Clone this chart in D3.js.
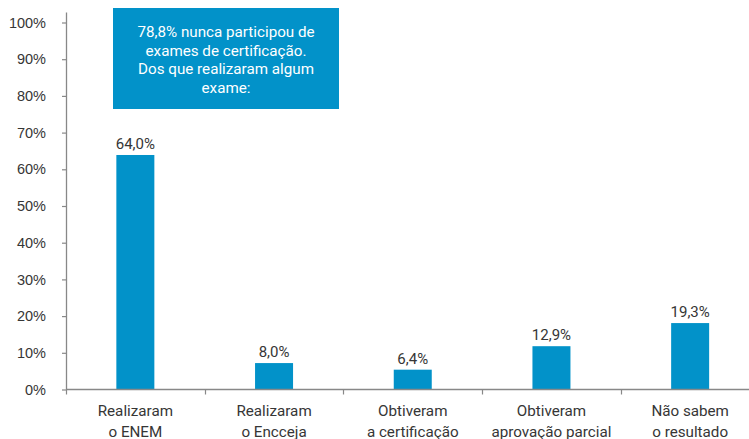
<!DOCTYPE html>
<html>
<head>
<meta charset="utf-8">
<script src="https://cdn.jsdelivr.net/npm/d3@7"></script>
<style>
  body { margin: 0; background: #fff; }
  svg { display: block; font-family: Roboto, "Noto Sans", sans-serif; }
</style>
</head>
<body>
<div id="chart"></div>
<script>
const categories = [
  ["Realizaram", "o ENEM"],
  ["Realizaram", "o Encceja"],
  ["Obtiveram", "a certificação"],
  ["Obtiveram", "aprovação parcial"],
  ["Não sabem", "o resultado"]
]
// bar heights as drawn, and the printed labels
const values = [63.9, 7.2, 5.4, 11.8, 18.1]
const labels = ["64,0%", "8,0%", "6,4%", "12,9%", "19,3%"]
const yTicks = [0, 10, 20, 30, 40, 50, 60, 70, 80, 90, 100]
const note = ["78,8% nunca participou de", "exames de certificação.", "Dos que realizaram algum", "exame:"]

const width = 749
const height = 439
const margin = { top: 22.5, right: 0, bottom: 49.5, left: 66 }
const blue = "#0292c9"
const axisCol = "#888"
const textCol = "#363636"

const svg = d3.select("#chart").append("svg")
  .attr("width", width)
  .attr("height", height)

const x = d3.scaleBand()
  .domain(d3.range(categories.length))
  .range([margin.left, 759.5])

const y = d3.scaleLinear()
  .domain([0, 100])
  .range([height - margin.bottom, margin.top])

// y axis
svg.append("g")
  .attr("transform", `translate(${margin.left},0)`)
  .call(d3.axisLeft(y).tickValues(yTicks).tickFormat(d => d + "%").tickSize(4).tickSizeOuter(0))
  .call(g => g.select(".domain").attr("stroke", axisCol).attr("stroke-width", 1.3)
    .attr("d", `M0.5,${margin.top - 10}V${y(0)}`))
  .call(g => g.selectAll(".tick line").attr("stroke", axisCol).attr("stroke-width", 1.2))
  .call(g => g.selectAll(".tick text").attr("fill", textCol).attr("font-size", 14.5).attr("x", -20))

// bars
svg.append("g")
  .selectAll("rect")
  .data(values)
  .join("rect")
  .attr("x", (d, i) => x(i) + x.bandwidth() / 2 - 19)
  .attr("width", 38)
  .attr("y", d => y(d))
  .attr("height", d => y(0) - y(d))
  .attr("fill", blue)

// value labels
svg.append("g")
  .selectAll("text")
  .data(values)
  .join("text")
  .attr("x", (d, i) => x(i) + x.bandwidth() / 2)
  .attr("y", d => y(d) - 6)
  .attr("text-anchor", "middle")
  .attr("fill", textCol)
  .attr("font-size", 15)
  .text((d, i) => labels[i])

// x axis with separators between categories
const xa = svg.append("g")
  .attr("transform", `translate(0,${y(0)})`)
xa.append("line")
  .attr("x1", margin.left).attr("x2", width)
  .attr("stroke", axisCol).attr("stroke-width", 1.5)
xa.selectAll(".sep")
  .data(d3.range(categories.length))
  .join("line")
  .attr("class", "sep")
  .attr("x1", i => Math.round(x(i)) + 0.5)
  .attr("x2", i => Math.round(x(i)) + 0.5)
  .attr("y1", 0).attr("y2", 5)
  .attr("stroke", axisCol).attr("stroke-width", 1.2)

const cat = xa.selectAll(".cat")
  .data(categories)
  .join("text")
  .attr("class", "cat")
  .attr("text-anchor", "middle")
  .attr("fill", textCol)
  .attr("font-size", 15.2)
  .attr("transform", (d, i) => `translate(${x(i) + x.bandwidth() / 2},0)`)
cat.selectAll("tspan")
  .data(d => d)
  .join("tspan")
  .attr("x", 0)
  .attr("y", (d, j) => 26 + j * 21)
  .text(d => d)

// note box
const box = svg.append("g")
box.append("rect")
  .attr("x", 113).attr("y", 8)
  .attr("width", 226).attr("height", 101)
  .attr("fill", blue)
box.append("text")
  .attr("text-anchor", "middle")
  .attr("fill", "#fff")
  .attr("font-size", 15.2)
  .selectAll("tspan")
  .data(note)
  .join("tspan")
  .attr("x", 226)
  .attr("y", (d, i) => 37 + i * 18.7)
  .text(d => d)
</script>
</body>
</html>
